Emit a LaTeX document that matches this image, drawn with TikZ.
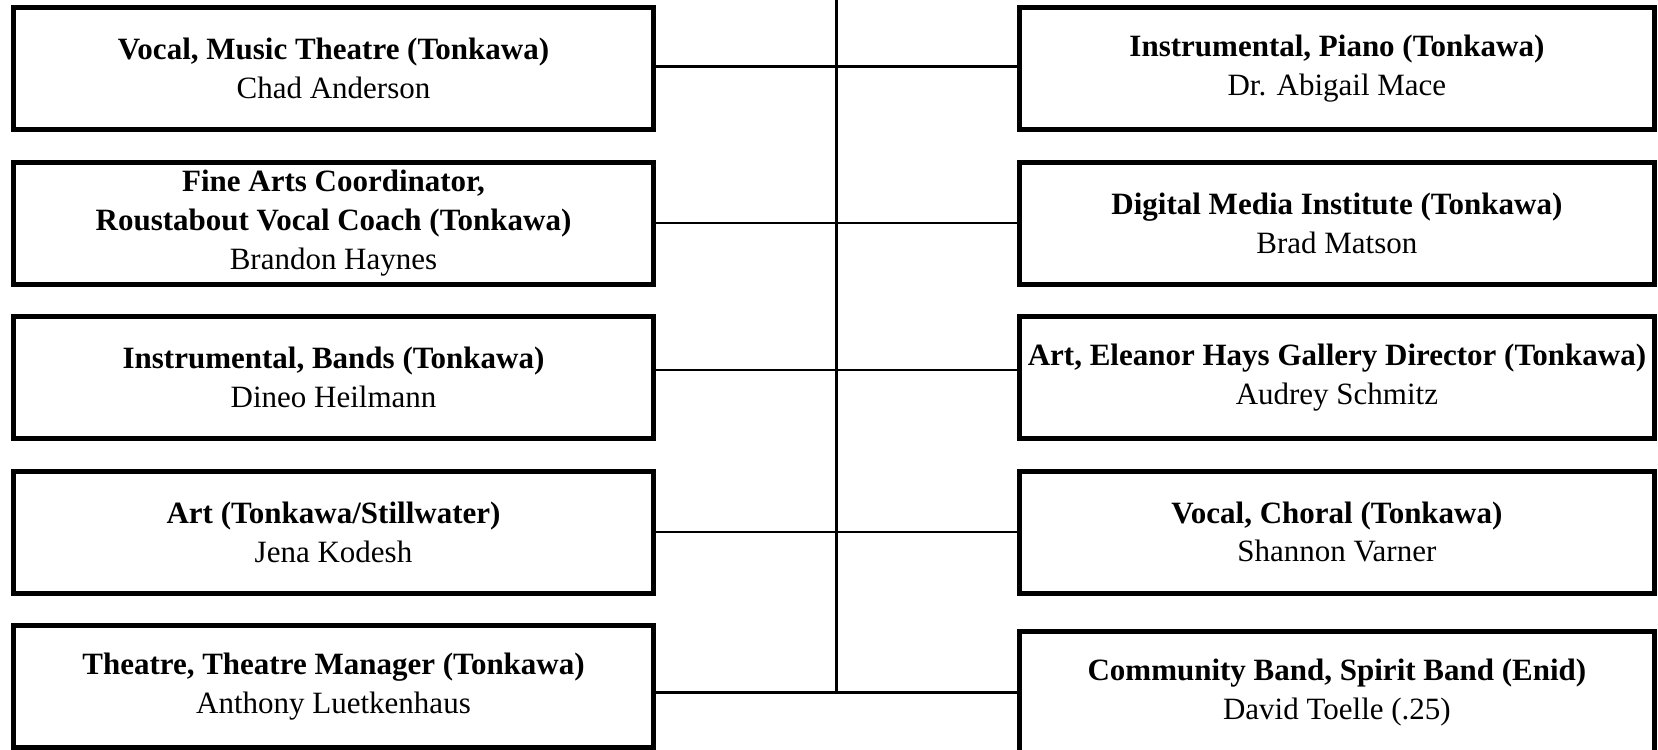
\documentclass[tikz,border=0pt]{standalone}
\usepackage{fontspec}
\setmainfont{Liberation Serif}
\tikzset{
    % Define box style
    post/.style={
           draw,
           line width=2.5pt,
           minimum width=320pt,
           minimum height=61pt,
           inner sep=0pt,
           align=center,
           font=\fontsize{15.5}{19.4}\selectfont,
           },
    % Right column boxes are a bit narrower
    postr/.style={
           post,
           minimum width=317.6pt,
           },
    % Define line style
    link/.style={
           line width=1.35pt,
           },
}
\begin{document}
\begin{tikzpicture}[x=0.5pt,y=-0.5pt]
  	\useasboundingbox (0,0) rectangle (1658,749);
  	\clip (0,0) rectangle (1658,749);
  	\coordinate (top) at (836.7,0);
  	\node (l1) at (333.5,68.5) [post] {\textbf{Vocal, Music Theatre (Tonkawa)}\\Chad Anderson};
  	\node (l2) at (333.5,223) [post] {\textbf{Fine Arts Coordinator,}\\\textbf{Roustabout Vocal Coach (Tonkawa)}\\Brandon Haynes};
  	\node (l3) at (333.5,377.5) [post] {\textbf{Instrumental, Bands (Tonkawa)}\\Dineo Heilmann};
  	\node (l4) at (333.5,532) [post] {\textbf{Art (Tonkawa/Stillwater)}\\Jena Kodesh};
  	\node (l5) at (333.5,686.5) [post] {\textbf{Theatre, Theatre Manager (Tonkawa)}\\Anthony Luetkenhaus};
  	\node (r1) at (1336.9,68.5) [postr] {\textbf{Instrumental, Piano (Tonkawa)}\\Dr. Abigail Mace};
  	\node (r2) at (1336.9,223) [postr] {\textbf{Digital Media Institute (Tonkawa)}\\Brad Matson};
  	\node (r3) at (1336.9,377.5) [postr] {\textbf{Art, Eleanor Hays Gallery Director (Tonkawa)}\\Audrey Schmitz};
  	\node (r4) at (1336.9,532) [postr] {\textbf{Vocal, Choral (Tonkawa)}\\Shannon Varner};
  	\node (r5) at (1336.9,692.5) [postr] {\textbf{Community Band, Spirit Band (Enid)}\\David Toelle (.25)};
%  	trunk and branches
  	\draw [link] (top) -- (top |- r5.west);
  	\draw [link] ([yshift=1pt]l1.east) -- ([yshift=1pt]r1.west);
  	\draw [link] (l2) -- (r2);
  	\draw [link] ([yshift=3.75pt]l3.east) -- ([yshift=3.75pt]r3.west);
  	\draw [link] (l4) -- (r4);
  	\draw [link] (l5.east |- r5.west) -- (r5.west);
\end{tikzpicture}
\end{document}
